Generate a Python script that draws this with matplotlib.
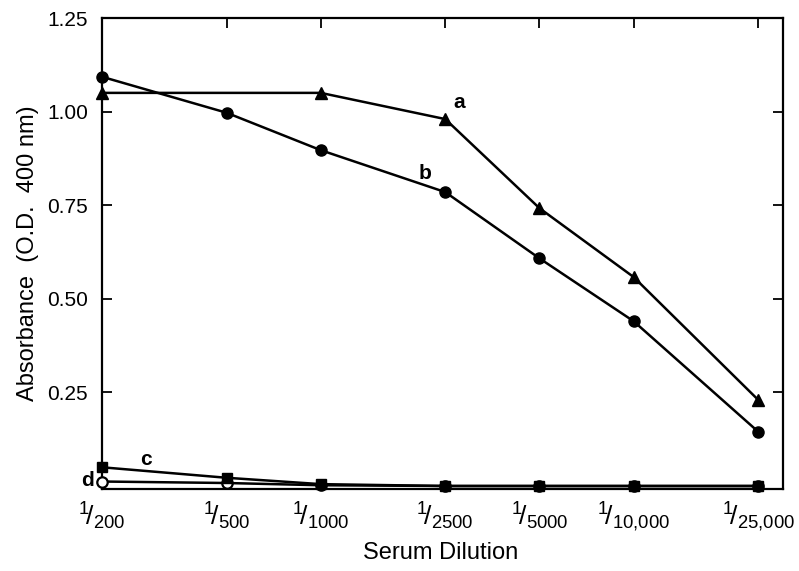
import matplotlib
matplotlib.use("Agg")
import matplotlib.pyplot as plt

dilutions = [200, 500, 1000, 2500, 5000, 10000, 25000]
tick_labels = ["200", "500", "1000", "2500", "5000", "10{,}000", "25{,}000"]
dilutions_a = [200, 1000, 2500, 5000, 10000, 25000]
series_a = [1.05, 1.05, 0.98, 0.742, 0.558, 0.23]
series_b = [1.093, 0.997, 0.897, 0.785, 0.608, 0.44, 0.145]
series_c = [0.05, 0.022, 0.005, 0.0, 0.0, 0.0, 0.0]
series_d = [0.012, 0.008, 0.002, 0.0, 0.0, 0.0, 0.0]
y_ticks = [0.25, 0.50, 0.75, 1.00, 1.25]

plt.rcParams['font.family'] = ['Liberation Sans', 'DejaVu Sans']
plt.rcParams['mathtext.fontset'] = 'custom'
plt.rcParams['mathtext.rm'] = 'Liberation Sans'
plt.rcParams['mathtext.it'] = 'Liberation Sans'
plt.rcParams['mathtext.default'] = 'regular'

fig = plt.figure(figsize=(7.99, 5.71), dpi=100)
ax = fig.add_axes([102/799, 1-489/571, (783-102)/799, (489-18)/571])

lw = 1.8
ax.plot(dilutions, series_d, color='black', lw=lw, marker='o', ms=7.5,
        mfc='white', mec='black', mew=1.6, zorder=3, clip_on=False)
ax.plot(dilutions, series_c, color='black', lw=lw, marker='s', ms=7,
        zorder=4, clip_on=False)
ax.plot(dilutions, series_b, color='black', lw=lw, marker='o', ms=8,
        zorder=5, clip_on=False)
ax.plot(dilutions_a, series_a, color='black', lw=lw, marker='^', ms=8.5,
        zorder=5, clip_on=False)

ax.set_xscale('log')
ax.set_xlim(200, 30000)
ax.set_ylim(-0.008, 1.25)
ax.set_xticks(dilutions)
ax.set_xticklabels([r'$^{1}\!/_{%s}$' % t for t in tick_labels], fontsize=19)
ax.minorticks_off()
ax.set_yticks(y_ticks)
ax.set_yticklabels(['%.2f' % v for v in y_ticks], fontsize=15)
ax.tick_params(axis='both', direction='in', top=True, right=True, length=7,
               width=1.3, color='black')
ax.tick_params(axis='x', pad=8, bottom=False)
ax.tick_params(axis='y', pad=10)
for s in ax.spines.values():
    s.set_linewidth(1.6)

ax.set_ylabel('Absorbance  (O.D.  400 nm)', fontsize=17, labelpad=6)
fig.text(441/799, 1-553/571, 'Serum Dilution', fontsize=17,
         ha='center', va='center')

ax.text(2650, 1.01, 'a', fontsize=15, fontweight='bold')
ax.text(2050, 0.82, 'b', fontsize=15, fontweight='bold')
ax.text(265, 0.055, 'c', fontsize=15, fontweight='bold')
ax.text(172, 0.0, 'd', fontsize=15, fontweight='bold', ha='left')

fig.savefig('out.png', dpi=100)
